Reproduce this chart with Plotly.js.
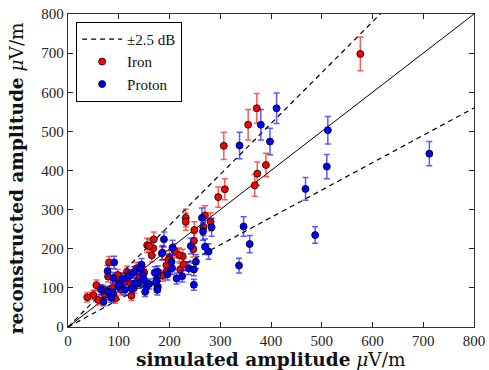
<!DOCTYPE html>
<html><head><meta charset="utf-8">
<script src="https://cdn.plot.ly/plotly-3.0.1.min.js"></script>
<style>html,body{margin:0;padding:0;background:#fff}#c{width:489px;height:370px}</style>
</head><body><div id="c"></div>
<script>
// Iron (red)
const ironX = [576,372,355,307,390,373,368,309,296,270,281,232,232,267,249,248,247,226,219,221,200,194,198,187,194,176,156,169,168,185,165,160,122,116,119,98,79,81,56,50,38,60,73,93,88,105,130,140,150,70,110,100,135,125,210,228];
const ironY = [698,559,517,463,414,392,362,352,332,285,269,279,269,255,248,220,199,181,184,147,178,158,171,131,141,133,209,224,201,188,183,207,112,141,133,133,129,165,107,82,76,69,82,73,100,95,100,125,140,95,115,120,150,80,195,160];
const ironErr = [43,38,39,35,30,30,28,27,26,25,23,22,22,22,21,20,20,18,18,15,17,16,16,14,14,14,18,19,18,17,17,18,13,14,14,14,14,15,13,12,12,12,12,12,13,13,13,14,14,12,13,13,15,12,18,16];
// Proton (blue)
const protonX = [712,512,510,468,487,411,380,398,338,346,358,337,277,264,283,266,242,252,238,248,248,189,186,206,205,204,214,177,175,177,171,173,176,145,148,140,132,125,112,99,89,79,108,89,78,91,65,70,152,155,142,150,160,120,100,85,196,225,270,130];
const protonY = [443,503,410,353,235,559,517,474,464,257,212,157,193,279,255,244,207,167,150,147,108,224,190,203,150,167,124,141,120,103,139,114,95,159,133,112,112,99,95,103,86,90,123,125,143,165,96,65,90,103,150,120,110,130,110,75,135,130,205,140];
const protonErr = [31,35,31,29,21,39,39,34,34,25,22,19,20,25,23,22,20,18,16,16,14,19,18,19,16,17,14,15,14,13,15,14,13,16,14,13,13,13,13,13,12,12,14,14,15,16,12,11,12,13,15,14,13,14,13,12,15,15,20,14];
// reference lines
const lineX = [0, 800];
const slopeUpper = 1.3, slopeLower = 0.7, slopeUnity = 1.0;
const xTicks = [0,100,200,300,400,500,600,700,800];
const xTitle = '<b>simulated amplitude</b> <i>μ</i>V/m';
const yTitle = '<b>reconstructed amplitude</b> <i>μ</i>V/m';

const serif = '"Liberation Serif", "DejaVu Serif", serif';
const titleFont = {family:'"DejaVu Serif", serif', size:18.5, color:'#111'};
const traces = [
  {x: lineX, y: lineX.map(v => v*slopeUpper), mode:'lines', name:'±2.5 dB', line:{color:'black', dash:'5px,4px', width:1.2}},
  {x: lineX, y: lineX.map(v => v*slopeLower), mode:'lines', showlegend:false, line:{color:'black', dash:'5px,4px', width:1.2}},
  {x: lineX, y: lineX.map(v => v*slopeUnity), mode:'lines', showlegend:false, line:{color:'black', width:1}},
  {x: ironX, y: ironY, mode:'markers', name:'Iron',
   marker:{color:'#ff0000', size:7, line:{color:'black', width:0.8}},
   error_y:{type:'data', array: ironErr, visible:true, color:'rgba(255,0,0,0.65)', thickness:1.5, width:3}},
  {x: protonX, y: protonY, mode:'markers', name:'Proton',
   marker:{color:'#0000ff', size:7, line:{color:'black', width:0.8}},
   error_y:{type:'data', array: protonErr, visible:true, color:'rgba(0,0,255,0.65)', thickness:1.5, width:3}}
];
const axisCommon = {
  range:[0,800], tickvals:xTicks, ticktext:xTicks.map(String),
  ticks:'inside', ticklen:5, tickcolor:'#222', mirror:'ticks',
  showline:true, linecolor:'#333', linewidth:1.2,
  showgrid:false, zeroline:false,
  tickfont:{family:serif, size:15, color:'#222'}
};
const layout = {
  width:489, height:370,
  margin:{l:68, r:15, t:14, b:43},
  paper_bgcolor:'white', plot_bgcolor:'white',
  showlegend:true,
  legend:{x:0.02, y:0.975, xanchor:'left', yanchor:'top', bgcolor:'white', bordercolor:'black', borderwidth:1,
          font:{family:serif, size:15, color:'#111'}, tracegroupgap:0, itemwidth:40},
  xaxis: Object.assign({}, axisCommon),
  yaxis: Object.assign({}, axisCommon),
  annotations:[
    {text:xTitle, xref:'paper', yref:'paper', x:0.5, y:-0.105, xanchor:'center', yanchor:'middle', showarrow:false, font:titleFont},
    {text:yTitle, xref:'paper', yref:'paper', x:-0.128, y:0.475, xanchor:'center', yanchor:'middle', textangle:-90, showarrow:false, font:titleFont}
  ]
};
Plotly.newPlot('c', traces, layout, {displayModeBar:false, staticPlot:true});
</script>
</body></html>
